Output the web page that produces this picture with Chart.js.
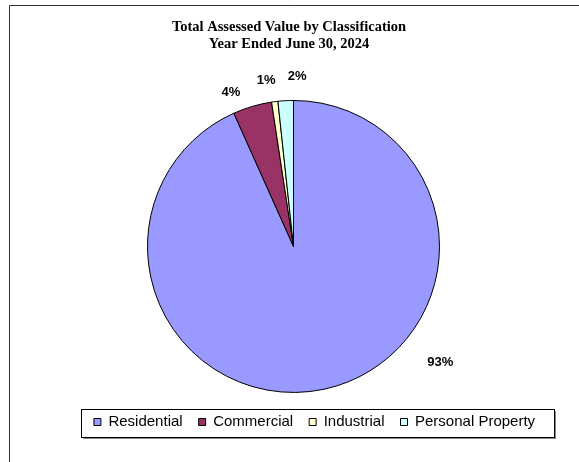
<!DOCTYPE html>
<html>
<head>
<meta charset="utf-8">
<title>Total Assessed Value by Classification</title>
<script src="https://cdn.jsdelivr.net/npm/chart.js@4.4.1/dist/chart.umd.min.js"></script>
<style>
  html, body { margin: 0; padding: 0; background: #fff; }
  canvas { display: block; }
</style>
</head>
<body>
<canvas id="assessed-chart" width="579" height="462"></canvas>
<script>
// Share of total assessed value (%), fiscal year ended June 30, 2024
const classifications = ['Residential', 'Commercial', 'Industrial', 'Personal Property'];
const assessedShare = [93.3, 4.3, 0.7, 1.7];
const titleLines = ['Total Assessed Value by Classification', 'Year Ended June 30, 2024'];

const SLICE_COLORS = ['#9999FF', '#993366', '#FFFFCC', '#CCFFFF'];
const SANS = '"Liberation Sans", Arial, sans-serif';
const SERIF = '"Liberation Serif", "Times New Roman", serif';

// Percent labels sit outside the rim: angle tweak (deg) and gap past the edge (px)
const LABEL_NUDGE = [-39.7, -5.8, -2.0, 4.3];
const LABEL_GAP = [41, 20, 22, 24.5];

// Legend frame size and the horizontal shifts of title / legend blocks
const LEGEND_FRAME = { w: 473, h: 28 };
const TITLE_SHIFT = -4.5;
const LEGEND_SHIFT = 21;

const shiftBlocks = {
  id: 'shiftBlocks',
  afterLayout(chart) {
    chart.titleBlock.left += TITLE_SHIFT;
    chart.titleBlock.right += TITLE_SHIFT;
    chart.legend.left += LEGEND_SHIFT;
    chart.legend.right += LEGEND_SHIFT;
  }
};

// Page border plus the framed legend box with its drop shadow
const frames = {
  id: 'frames',
  beforeDraw(chart) {
    const { ctx, width, height, legend } = chart;
    ctx.save();
    ctx.fillStyle = '#fff';
    ctx.fillRect(0, 0, width, height);

    ctx.strokeStyle = '#333';
    ctx.lineWidth = 1;
    ctx.beginPath();
    ctx.moveTo(9.5, height);
    ctx.lineTo(9.5, 5.5);
    ctx.lineTo(width, 5.5);
    ctx.stroke();

    const pad = legend.options.labels.padding;
    const cx = (legend.left + legend.right) / 2 + 3;
    const cy = legend.top + pad + 7.5 + 1;
    const x = Math.round(cx - LEGEND_FRAME.w / 2) + 0.5;
    const y = Math.round(cy - LEGEND_FRAME.h / 2) + 0.5;
    ctx.fillStyle = '#8a8a8a';
    ctx.fillRect(x + 1.5, y + 1.5, LEGEND_FRAME.w, LEGEND_FRAME.h);
    ctx.fillStyle = '#fff';
    ctx.fillRect(x, y, LEGEND_FRAME.w, LEGEND_FRAME.h);
    ctx.strokeStyle = '#000';
    ctx.strokeRect(x, y, LEGEND_FRAME.w, LEGEND_FRAME.h);
    ctx.restore();
  }
};

const percentLabels = {
  id: 'percentLabels',
  afterDatasetsDraw(chart) {
    const meta = chart.getDatasetMeta(0);
    const values = chart.data.datasets[0].data;
    const total = values.reduce((a, b) => a + b, 0);
    const ctx = chart.ctx;
    ctx.save();
    ctx.font = 'bold 13px ' + SANS;
    ctx.fillStyle = '#000';
    ctx.textAlign = 'center';
    ctx.textBaseline = 'middle';
    meta.data.forEach((arc, i) => {
      const { x, y, startAngle, endAngle, outerRadius } =
        arc.getProps(['x', 'y', 'startAngle', 'endAngle', 'outerRadius'], true);
      const a = (startAngle + endAngle) / 2 + LABEL_NUDGE[i] * Math.PI / 180;
      const r = outerRadius + LABEL_GAP[i];
      ctx.fillText(Math.round(values[i] / total * 100) + '%', x + Math.cos(a) * r, y + Math.sin(a) * r);
    });
    ctx.restore();
  }
};

new Chart(document.getElementById('assessed-chart'), {
  type: 'pie',
  data: {
    labels: classifications,
    datasets: [{
      data: assessedShare,
      backgroundColor: SLICE_COLORS,
      borderColor: '#000',
      borderWidth: 1,
      radius: 146
    }]
  },
  plugins: [shiftBlocks, frames, percentLabels],
  options: {
    responsive: false,
    animation: false,
    devicePixelRatio: 1,
    layout: { padding: { left: 8, right: 0, top: 0, bottom: 22.5 } },
    plugins: {
      title: {
        display: true,
        text: titleLines,
        color: '#000',
        font: { family: SERIF, size: 14.5, weight: 'bold', lineHeight: 1.17 },
        padding: { top: 18.5, bottom: 42 }
      },
      legend: {
        position: 'bottom',
        labels: {
          boxWidth: 7,
          boxHeight: 7,
          padding: 16,
          color: '#000',
          font: { family: SANS, size: 15 }
        }
      },
      tooltip: { enabled: false }
    }
  }
});
</script>
</body>
</html>
